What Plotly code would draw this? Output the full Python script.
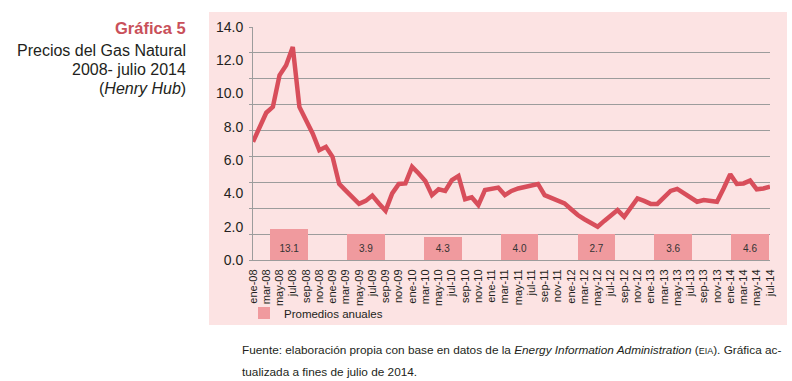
import plotly.graph_objects as go

# ---------------- data ----------------
MONTH_NAMES = ["ene", "feb", "mar", "abr", "may", "jun", "jul", "ago", "sep", "oct", "nov", "dic"]
YEARS_SHORT = ["08", "09", "10", "11", "12", "13", "14"]
MONTHS = [f"{m}-{y}" for y in YEARS_SHORT for m in MONTH_NAMES][:79]  # ene-08 .. jul-14

PRICES = [
    7.1, 8.0, 8.85, 9.2, 11.1, 11.7, 12.8, 9.2, 8.4, 7.6, 6.6, 6.8,      # 2008
    6.2, 4.57, 4.17, 3.77, 3.37, 3.55, 3.87, 3.4, 2.96, 4.0, 4.57, 4.6,  # 2009
    5.6, 5.2, 4.75, 3.9, 4.25, 4.15, 4.8, 5.05, 3.65, 3.77, 3.3, 4.2,    # 2010
    4.3, 4.35, 3.9, 4.15, 4.3, 4.4, 4.5, 4.57, 3.9, 3.75, 3.6, 3.4,      # 2011
    3.05, 2.7, 2.45, 2.2, 2.0, 2.35, 2.7, 3.0, 2.6, 3.15, 3.7, 3.55,     # 2012
    3.37, 3.37, 3.8, 4.15, 4.27, 4.0, 3.7, 3.5, 3.6, 3.55, 3.5, 4.3,     # 2013
    5.15, 4.57, 4.6, 4.77, 4.25, 4.3, 4.4,                               # 2014
]

YEARS = ["2008", "2009", "2010", "2011", "2012", "2013", "2014"]
ANNUAL_AVG = [13.1, 3.9, 4.3, 4.0, 2.7, 3.6, 4.6]          # printed labels
BAR_HEIGHTS = [1.85, 1.58, 1.36, 1.56, 1.56, 1.56, 1.56]   # drawn heights (as in picture)

Y_LABELS = [0, 2, 4, 6, 8, 10, 12, 14]

# ---------------- layout helpers ----------------
W, H = 792, 381
PL, PR, PT, PB = 253, 770, 27, 260
YMAX = 14.0
GRID_STEP = YMAX / 9
LABEL_Y = 0.65


def px_x(px):
    return (px - PL) / (PR - PL)


def px_y(py):
    return (PB - py) / (PB - PT)


FONT = "Liberation Sans, Arial, Helvetica, sans-serif"
NARROW = "Liberation Sans Narrow, Arial Narrow, Liberation Sans, sans-serif"
DARK = "#231F20"
RED = "#D84E5B"
BAR = "#F09A9E"
PANEL = "#FCE3E3"
GRID = "#9C9C9C"

fig = go.Figure()

fig.add_trace(go.Scatter(
    x=MONTHS, y=PRICES, mode="lines",
    line=dict(color=RED, width=4.5),
    xaxis="x", yaxis="y", showlegend=False, hoverinfo="skip",
))

fig.add_trace(go.Bar(
    x=YEARS, y=BAR_HEIGHTS, name="Promedios anuales",
    marker=dict(color=BAR, line=dict(width=0)),
    width=0.49, xaxis="x2", yaxis="y2", showlegend=True,
    hovertext=[f"{v:.1f}" for v in ANNUAL_AVG], hoverinfo="text",
))

fig.add_trace(go.Scatter(
    x=YEARS, y=[LABEL_Y] * len(YEARS), mode="text",
    text=[f"{v:.1f}" for v in ANNUAL_AVG],
    textfont=dict(family=FONT, size=10, color="#333333"),
    xaxis="x2", yaxis="y2", showlegend=False, hoverinfo="skip",
))

annotations = [
    dict(text="<b>Gráfica 5</b>", x=px_x(188), y=px_y(28),
         font=dict(family=FONT, size=16.5, color="#C9505A")),
    dict(text="Precios del Gas Natural", x=px_x(188), y=px_y(50),
         font=dict(family=FONT, size=16, color=DARK)),
    dict(text="2008- julio 2014", x=px_x(188), y=px_y(69),
         font=dict(family=FONT, size=16, color=DARK)),
    dict(text="(<i>Henry Hub</i>)", x=px_x(188), y=px_y(88),
         font=dict(family=FONT, size=16, color=DARK)),
]
for a in annotations:
    a.update(xref="paper", yref="paper", xanchor="right", yanchor="middle", showarrow=False)

foot = [
    ("Fuente: elaboración propia con base en datos de la <i>Energy Information Administration</i> "
     "(<span style='font-size:9px'>EIA</span>). Gráfica ac-", 350),
    ("tualizada a fines de julio de 2014.", 372),
]
for t, py in foot:
    annotations.append(dict(text=t, x=px_x(240), y=px_y(py), xref="paper", yref="paper",
                            xanchor="left", yanchor="middle", showarrow=False,
                            font=dict(family=FONT, size=11.8, color=DARK)))

fig.update_layout(
    width=W, height=H,
    margin=dict(l=PL, r=W - PR, t=PT, b=H - PB, pad=0),
    paper_bgcolor="white", plot_bgcolor="rgba(0,0,0,0)",
    font=dict(family=FONT, color=DARK),
    xaxis=dict(type="category", range=[0, len(MONTHS) - 1], tickmode="linear", tick0=0, dtick=2,
               tickangle=-90, ticks="", showgrid=False, showline=True, linecolor=GRID, linewidth=1,
               tickfont=dict(family=NARROW, size=11, color=DARK), ticklabelstandoff=4,
               zeroline=False),
    xaxis2=dict(type="category", overlaying="x", range=[-0.47, 6.26], visible=False),
    yaxis=dict(range=[0, YMAX], tickmode="array", tickvals=Y_LABELS,
               ticktext=[f"{v:.1f}" for v in Y_LABELS], showgrid=False, zeroline=False,
               showline=True, linecolor=GRID, linewidth=1, ticks="",
               tickfont=dict(family=FONT, size=14, color=DARK), ticklabelstandoff=6),
    yaxis2=dict(range=[0, YMAX], overlaying="y", side="left", tickmode="linear", tick0=0,
                dtick=GRID_STEP, showgrid=True, gridcolor=GRID, gridwidth=1,
                showticklabels=False, ticks="outside", ticklen=3, tickcolor=GRID,
                zeroline=False, showline=False),
    legend=dict(x=px_x(244), y=px_y(313), xanchor="left", yanchor="middle",
                bgcolor="rgba(0,0,0,0)", borderwidth=0,
                font=dict(family=FONT, size=11.5, color=DARK), orientation="h"),
    shapes=[dict(type="rect", xref="paper", yref="paper",
                 x0=px_x(209), x1=px_x(787), y0=px_y(325), y1=px_y(12),
                 fillcolor=PANEL, line=dict(width=0), layer="below")],
    annotations=annotations,
    bargap=0,
)

fig.write_html(
    "out.html",
    config={"displayModeBar": False},
    post_script="document.body.style.margin='0';document.body.style.padding='0';",
)
